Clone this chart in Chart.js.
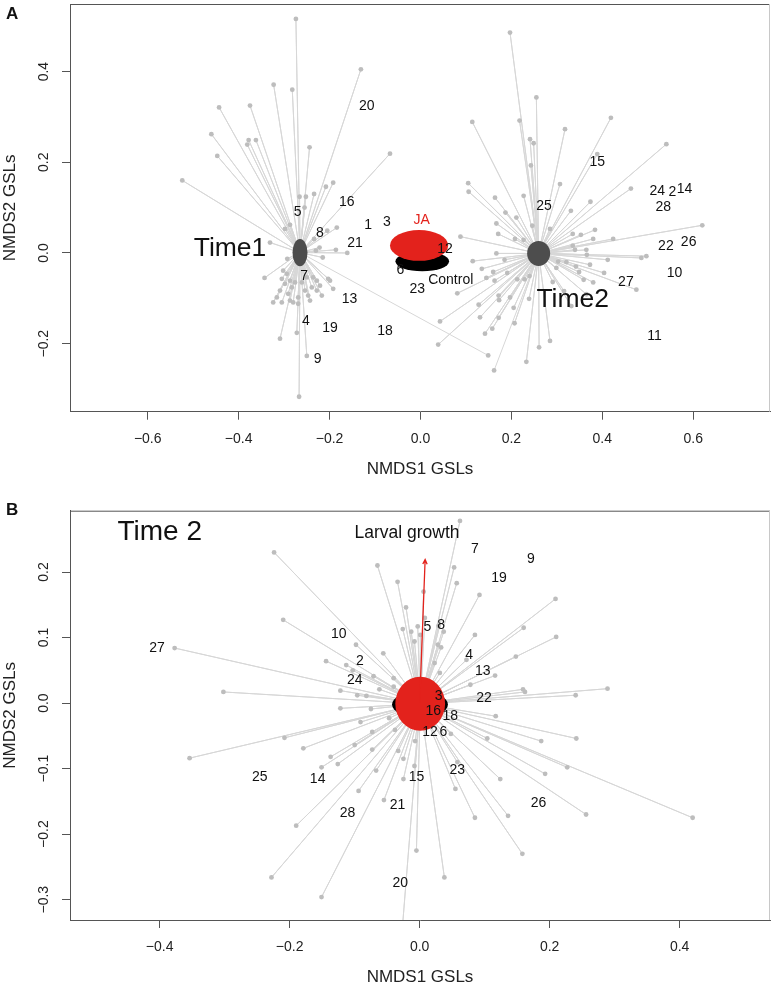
<!DOCTYPE html>
<html>
<head>
<meta charset="utf-8">
<script src="https://cdn.jsdelivr.net/npm/chart.js@4.4.1/dist/chart.umd.min.js"></script>
<style>
  body { margin: 0; background: #fff; width: 774px; height: 988px; position: relative; overflow: hidden;
         font-family: "Liberation Sans", Arial, sans-serif; }
  .panel { position: absolute; left: 0; width: 774px; }
  #panelA { top: 0; height: 490px; }
  #panelB { top: 490px; height: 498px; }
  .tag { position: absolute; left: 6px; font-weight: bold; font-size: 17px; line-height: 17px; color: #111; }
</style>
</head>
<body>
<div class="panel" id="panelA"><canvas id="chartA" width="774" height="490"></canvas></div>
<div class="panel" id="panelB"><canvas id="chartB" width="774" height="498"></canvas></div>
<div class="tag" style="top:5px">A</div>
<div class="tag" style="top:501px">B</div>
<script>
// ---------- panel A : NMDS of GSLs, Time1 vs Time2 ----------
const xTicksA = [-0.6, -0.4, -0.2, 0, 0.2, 0.4, 0.6];
const xTickLabelsA = ['\u22120.6', '\u22120.4', '\u22120.2', '0.0', '0.2', '0.4', '0.6'];
const yTicksA = [-0.2, 0, 0.2, 0.4];
const yTickLabelsA = ['\u22120.2', '0.0', '0.2', '0.4'];

const time1Centroid = [-0.265, 0.001];
const time1Points = [
  [-0.274, 0.516], [-0.131, 0.405], [-0.323, 0.371], [-0.282, 0.360], [-0.443, 0.321], [-0.375, 0.325],
  [-0.460, 0.262], [-0.378, 0.249], [-0.362, 0.249], [-0.381, 0.239], [-0.244, 0.233], [-0.447, 0.214],
  [-0.524, 0.160], [-0.192, 0.155], [-0.208, 0.146], [-0.266, 0.124], [-0.252, 0.124], [-0.234, 0.130],
  [-0.067, 0.219], [-0.255, 0.100], [-0.287, 0.062], [-0.298, 0.053], [-0.184, 0.056], [-0.205, 0.049],
  [-0.234, 0.031], [-0.331, 0.023], [-0.222, 0.012], [-0.230, 0.005], [-0.186, 0.007], [-0.161, 0.000],
  [-0.215, -0.010], [-0.293, -0.013], [-0.343, -0.055],
  [-0.302, -0.039], [-0.294, -0.046], [-0.305, -0.057], [-0.287, -0.061], [-0.298, -0.068], [-0.276, -0.065],
  [-0.283, -0.076], [-0.309, -0.083], [-0.291, -0.090], [-0.316, -0.098], [-0.305, -0.109], [-0.287, -0.105],
  [-0.269, -0.098], [-0.247, -0.094], [-0.239, -0.076], [-0.228, -0.061], [-0.221, -0.072], [-0.217, -0.094],
  [-0.203, -0.057], [-0.192, -0.079], [-0.199, -0.061], [-0.250, -0.054], [-0.236, -0.054], [-0.261, -0.065],
  [-0.254, -0.083], [-0.228, -0.083], [-0.269, -0.112], [-0.280, -0.109], [-0.324, -0.109], [-0.243, -0.105],
  [-0.309, -0.189], [-0.272, -0.176], [-0.250, -0.227], [-0.267, -0.317], [0.149, -0.226]
];

const time2Centroid = [0.260, -0.001];
const time2Points = [
  [0.197, 0.486], [0.255, 0.343], [0.114, 0.289], [0.218, 0.292], [0.419, 0.298], [0.318, 0.273],
  [0.241, 0.251], [0.249, 0.242], [0.541, 0.240], [0.389, 0.218], [0.243, 0.193], [0.105, 0.154],
  [0.106, 0.135], [0.307, 0.152], [0.463, 0.142], [0.164, 0.122], [0.227, 0.126], [0.374, 0.113],
  [0.331, 0.093], [0.187, 0.089], [0.211, 0.078], [0.167, 0.065], [0.246, 0.060], [0.285, 0.053],
  [0.384, 0.051], [0.335, 0.042], [0.353, 0.040], [0.171, 0.042], [0.088, 0.036], [0.208, 0.031],
  [0.227, 0.029], [0.380, 0.031], [0.424, 0.031], [0.620, 0.061], [0.335, 0.016], [0.340, 0.007],
  [0.365, 0.007], [0.167, -0.001], [0.366, -0.004], [0.497, -0.007], [0.486, -0.011], [0.412, -0.015],
  [0.185, -0.015], [0.115, -0.018], [0.303, -0.019], [0.321, -0.020], [0.373, -0.026], [0.342, -0.030],
  [0.299, -0.033], [0.135, -0.035], [0.160, -0.042], [0.191, -0.044], [0.349, -0.042], [0.404, -0.044],
  [0.145, -0.055], [0.163, -0.061], [0.213, -0.058], [0.229, -0.058], [0.240, -0.051], [0.291, -0.064],
  [0.359, -0.059], [0.380, -0.065], [0.475, -0.081], [0.081, -0.089], [0.316, -0.084], [0.365, -0.091],
  [0.172, -0.094], [0.173, -0.104], [0.197, -0.098], [0.239, -0.101], [0.128, -0.114], [0.205, -0.121],
  [0.332, -0.117], [0.172, -0.143], [0.131, -0.142], [0.043, -0.151], [0.207, -0.155], [0.158, -0.167],
  [0.142, -0.178], [0.261, -0.208], [0.285, -0.194], [0.039, -0.202], [0.233, -0.240], [0.162, -0.259]
];

// group ellipses: name, centre x, centre y, half-width, half-height (data units)
const ellipsesA = [
  ['Time1', -0.265, 0.001, 0.0165, 0.030],
  ['Time2', 0.260, -0.001, 0.0253, 0.0275],
  ['Control', 0.004, -0.0185, 0.059, 0.022],
  ['JA', -0.003, 0.0167, 0.064, 0.034]
];
const groupLabelsA = [['Time1', -0.419, 0.0095], ['Time2', 0.335, -0.104], ['JA', 0.0026, 0.0727], ['Control', 0.0666, -0.0593]];
const compoundLabelsA = [
  ['20', -0.118, 0.324], ['16', -0.162, 0.111], ['5', -0.270, 0.089], ['1', -0.115, 0.062], ['3', -0.074, 0.067],
  ['8', -0.221, 0.043], ['21', -0.144, 0.021], ['7', -0.256, -0.051], ['13', -0.156, -0.101], ['4', -0.252, -0.151],
  ['19', -0.199, -0.166], ['18', -0.078, -0.172], ['9', -0.226, -0.235], ['12', 0.054, 0.009], ['6', -0.044, -0.037],
  ['23', -0.007, -0.080], ['25', 0.272, 0.104], ['28', 0.534, 0.102], ['24', 0.521, 0.137], ['2', 0.554, 0.135],
  ['14', 0.581, 0.140], ['15', 0.389, 0.201], ['22', 0.540, 0.016], ['26', 0.590, 0.023], ['10', 0.559, -0.044],
  ['27', 0.452, -0.065], ['11', 0.515, -0.183]
];

// ---------- panel B : Time 2, JA vs control with larval growth vector ----------
const xTicksB = [-0.4, -0.2, 0, 0.2, 0.4];
const xTickLabelsB = ['\u22120.4', '\u22120.2', '0.0', '0.2', '0.4'];
const yTicksB = [-0.3, -0.2, -0.1, 0, 0.1, 0.2];
const yTickLabelsB = ['\u22120.3', '\u22120.2', '\u22120.1', '0.0', '0.1', '0.2'];

const time2bCentroid = [0.001, -0.001];
const time2bPoints = [
  [-0.224, 0.230], [-0.065, 0.210], [-0.210, 0.127], [-0.098, 0.089], [-0.056, 0.076], [-0.144, 0.064],
  [-0.113, 0.058], [-0.103, 0.050], [-0.071, 0.041], [-0.377, 0.084], [-0.302, 0.017], [-0.122, 0.019],
  [-0.096, 0.012], [-0.082, 0.011], [-0.062, 0.021], [-0.122, -0.008], [-0.075, -0.009], [-0.091, -0.029],
  [-0.073, -0.044], [-0.208, -0.053], [-0.179, -0.069], [-0.354, -0.084], [-0.100, -0.064], [-0.073, -0.071],
  [-0.137, -0.082], [-0.151, -0.098], [-0.126, -0.093], [-0.067, -0.103], [-0.094, -0.134], [-0.055, -0.148],
  [-0.190, -0.187], [-0.228, -0.266], [-0.151, -0.296], [0.038, -0.266], [-0.028, -0.360],
  [0.062, 0.278], [0.053, 0.207], [0.057, 0.183], [-0.034, 0.185], [0.092, 0.165], [0.209, 0.159],
  [-0.021, 0.146], [0.006, 0.170], [0.008, 0.130], [-0.003, 0.117], [-0.013, 0.109], [-0.026, 0.113],
  [0.029, 0.118], [0.037, 0.109], [0.085, 0.104], [0.160, 0.115], [0.210, 0.101], [-0.008, 0.094],
  [0.001, 0.104], [0.028, 0.089], [0.033, 0.085], [0.072, 0.066], [0.148, 0.071], [0.023, 0.061],
  [0.031, 0.046], [0.116, 0.042], [0.078, 0.028], [-0.040, 0.038], [0.289, 0.022], [0.159, 0.021],
  [0.162, 0.017], [0.240, 0.012], [0.117, -0.020], [0.048, -0.047], [0.104, -0.054], [0.187, -0.058],
  [0.241, -0.054], [0.193, -0.108], [0.227, -0.098], [0.058, -0.090], [0.124, -0.116], [0.055, -0.131],
  [0.085, -0.175], [0.136, -0.172], [0.256, -0.170], [0.420, -0.175], [0.158, -0.230], [-0.005, -0.225],
  [-0.008, -0.096], [-0.025, -0.116], [-0.007, -0.058], [-0.025, -0.085], [-0.033, -0.073], [-0.038, -0.041],
  [-0.047, -0.023], [-0.040, 0.025]
];
const ellipsesB = [
  ['Control', 0.0005, -0.002, 0.043, 0.020],
  ['JA', 0.0008, -0.001, 0.0383, 0.0412]
];
const growthArrow = [[0, 0], [0.0084, 0.219]];
const groupLabelsB = [['Time 2', -0.400, 0.260], ['Larval growth', -0.0195, 0.259]];
const compoundLabelsB = [
  ['10', -0.1245, 0.105], ['2', -0.092, 0.0646], ['24', -0.100, 0.035], ['27', -0.404, 0.0844], ['7', 0.085, 0.235],
  ['9', 0.171, 0.220], ['19', 0.122, 0.190], ['5', 0.012, 0.1165], ['8', 0.033, 0.119], ['4', 0.076, 0.073],
  ['13', 0.097, 0.049], ['25', -0.246, -0.1125], ['14', -0.157, -0.1165], ['28', -0.111, -0.1675], ['3', 0.029, 0.011],
  ['22', 0.099, 0.007], ['16', 0.021, -0.013], ['18', 0.047, -0.020], ['12', 0.016, -0.045], ['6', 0.0365, -0.044],
  ['15', -0.005, -0.1125], ['23', 0.058, -0.103], ['21', -0.034, -0.156], ['26', 0.183, -0.153], ['20', -0.030, -0.274]
];

// ---------- styling ----------
const FONT = '"Liberation Sans", Arial, sans-serif';
const ellipseColors = { Time1: '#4d4d4d', Time2: '#4d4d4d', Control: '#000000', JA: '#e3221c' };
const groupLabelStyle = {
  'Time1': { size: 26.5, color: '#111' },
  'Time2': { size: 26.5, color: '#111' },
  'JA': { size: 14, color: '#e3221c' },
  'Control': { size: 14, color: '#111' },
  'Time 2': { size: 28, color: '#111' },
  'Larval growth': { size: 17.5, color: '#111' }
};

function spiderData(centroid, points) {
  const c = { x: centroid[0], y: centroid[1] };
  return points.flatMap(p => [c, { x: p[0], y: p[1] }]);
}

function overlay(cfg) {
  return {
    id: 'overlay',
    afterDatasetsDraw(chart) {
      const ctx = chart.ctx;
      const xs = chart.scales.x, ys = chart.scales.y;
      const area = chart.chartArea;
      ctx.save();
      ctx.beginPath();
      ctx.rect(area.left, area.top, area.right - area.left, area.bottom - area.top);
      ctx.clip();
      cfg.ellipses.forEach(([name, cx, cy, rx, ry]) => {
        const px = xs.getPixelForValue(cx), py = ys.getPixelForValue(cy);
        const prx = Math.abs(xs.getPixelForValue(cx + rx) - px);
        const pry = Math.abs(ys.getPixelForValue(cy + ry) - py);
        ctx.beginPath();
        ctx.ellipse(px, py, prx, pry, 0, 0, Math.PI * 2);
        ctx.fillStyle = ellipseColors[name];
        ctx.fill();
      });
      if (cfg.arrow) {
        const x0 = xs.getPixelForValue(cfg.arrow[0][0]), y0 = ys.getPixelForValue(cfg.arrow[0][1]);
        const x1 = xs.getPixelForValue(cfg.arrow[1][0]), y1 = ys.getPixelForValue(cfg.arrow[1][1]);
        const ang = Math.atan2(y1 - y0, x1 - x0);
        ctx.strokeStyle = '#e3221c';
        ctx.lineWidth = 1.3;
        ctx.beginPath();
        ctx.moveTo(x0, y0);
        ctx.lineTo(x1, y1);
        ctx.moveTo(x1 - 5 * Math.cos(ang - 0.45), y1 - 5 * Math.sin(ang - 0.45));
        ctx.lineTo(x1, y1);
        ctx.lineTo(x1 - 5 * Math.cos(ang + 0.45), y1 - 5 * Math.sin(ang + 0.45));
        ctx.stroke();
      }
      ctx.textAlign = 'center';
      ctx.textBaseline = 'middle';
      cfg.compoundLabels.forEach(([t, x, y]) => {
        ctx.font = '14px ' + FONT;
        ctx.fillStyle = '#111';
        ctx.fillText(t, xs.getPixelForValue(x), ys.getPixelForValue(y));
      });
      cfg.groupLabels.forEach(([t, x, y]) => {
        const st = groupLabelStyle[t];
        ctx.font = st.size + 'px ' + FONT;
        ctx.fillStyle = st.color;
        ctx.fillText(t, xs.getPixelForValue(x), ys.getPixelForValue(y));
      });
      ctx.restore();
    },
    afterDraw(chart) {
      const ctx = chart.ctx;
      const area = chart.chartArea;
      const ys = chart.scales.y;
      ctx.save();
      // remaining sides of the box
      ctx.lineWidth = 1;
      ctx.strokeStyle = '#555';
      ctx.beginPath();
      ctx.moveTo(area.left, area.top + 0.5);
      ctx.lineTo(area.right, area.top + 0.5);
      ctx.stroke();
      ctx.strokeStyle = '#c8c8c8';
      ctx.beginPath();
      ctx.moveTo(area.right - 0.5, area.top);
      ctx.lineTo(area.right - 0.5, area.bottom);
      ctx.stroke();
      // rotated y tick labels, R style
      ctx.font = '14px ' + FONT;
      ctx.fillStyle = '#222';
      ctx.textAlign = 'center';
      ctx.textBaseline = 'middle';
      ys.ticks.forEach((t, i) => {
        ctx.save();
        ctx.translate(44, ys.getPixelForValue(t.value));
        ctx.rotate(-Math.PI / 2);
        ctx.fillText(cfg.yLabels[i], 0, 0);
        ctx.restore();
      });
      ctx.restore();
    }
  };
}

function makeChart(id, opt) {
  const axisGrid = { display: true, drawOnChartArea: false, drawTicks: true, tickLength: 8, color: '#555', lineWidth: 1 };
  const axisBorder = { display: true, color: '#555', width: 1 };
  return new Chart(document.getElementById(id), {
    type: 'scatter',
    data: {
      datasets: [
        {
          label: 'points',
          data: opt.groups.flatMap(g => g[1].map(p => ({ x: p[0], y: p[1] }))),
          pointRadius: 2.4,
          pointBackgroundColor: '#bdbdbd',
          pointBorderWidth: 0,
          showLine: false
        },
        ...opt.groups.map(g => ({
          label: 'spider',
          data: spiderData(g[0], g[1]),
          showLine: true,
          pointRadius: 0,
          borderColor: '#d7d7d7',
          borderWidth: 1,
          tension: 0
        }))
      ]
    },
    options: {
      responsive: false,
      animation: false,
      devicePixelRatio: 1,
      layout: { padding: { top: opt.padTop, right: opt.padRight, left: 0, bottom: 0 } },
      plugins: { legend: { display: false }, tooltip: { enabled: false } },
      scales: {
        x: {
          type: 'linear', min: opt.xRange[0], max: opt.xRange[1],
          afterBuildTicks: s => { s.ticks = opt.xTicks.map(v => ({ value: v })); },
          afterFit: s => { s.height = opt.xAxisHeight; },
          ticks: {
            autoSkip: false, maxRotation: 0, minRotation: 0, padding: 11, color: '#222',
            font: { family: FONT, size: 14 },
            callback: (v, i) => opt.xLabels[i]
          },
          grid: axisGrid, border: axisBorder,
          title: { display: true, text: 'NMDS1 GSLs', color: '#222', font: { family: FONT, size: 17 }, padding: { top: 0, bottom: opt.xTitlePad } }
        },
        y: {
          type: 'linear', min: opt.yRange[0], max: opt.yRange[1],
          afterBuildTicks: s => { s.ticks = opt.yTicks.map(v => ({ value: v })); },
          afterFit: s => { s.width = 70; },
          ticks: { display: false },
          grid: axisGrid, border: axisBorder,
          title: { display: true, text: 'NMDS2 GSLs', color: '#222', font: { family: FONT, size: 17 }, padding: { top: 0, bottom: 0 } }
        }
      }
    },
    plugins: [overlay(opt)]
  });
}

makeChart('chartA', {
  groups: [[time1Centroid, time1Points], [time2Centroid, time2Points]],
  ellipses: ellipsesA,
  arrow: null,
  groupLabels: groupLabelsA,
  compoundLabels: compoundLabelsA,
  xTicks: xTicksA, xLabels: xTickLabelsA,
  yTicks: yTicksA, yLabels: yTickLabelsA,
  xRange: [-0.771, 0.769], yRange: [-0.350, 0.549],
  padTop: 2.5, padRight: 3, xAxisHeight: 78.3, xTitlePad: 10
});

makeChart('chartB', {
  groups: [[time2bCentroid, time2bPoints]],
  ellipses: ellipsesB,
  arrow: growthArrow,
  groupLabels: groupLabelsB,
  compoundLabels: compoundLabelsB,
  xTicks: xTicksB, xLabels: xTickLabelsB,
  yTicks: yTicksB, yLabels: yTickLabelsB,
  xRange: [-0.538, 0.539], yRange: [-0.331, 0.2936],
  padTop: 20.7, padRight: 2, xAxisHeight: 68, xTitlePad: 0
});
</script>
</body>
</html>
